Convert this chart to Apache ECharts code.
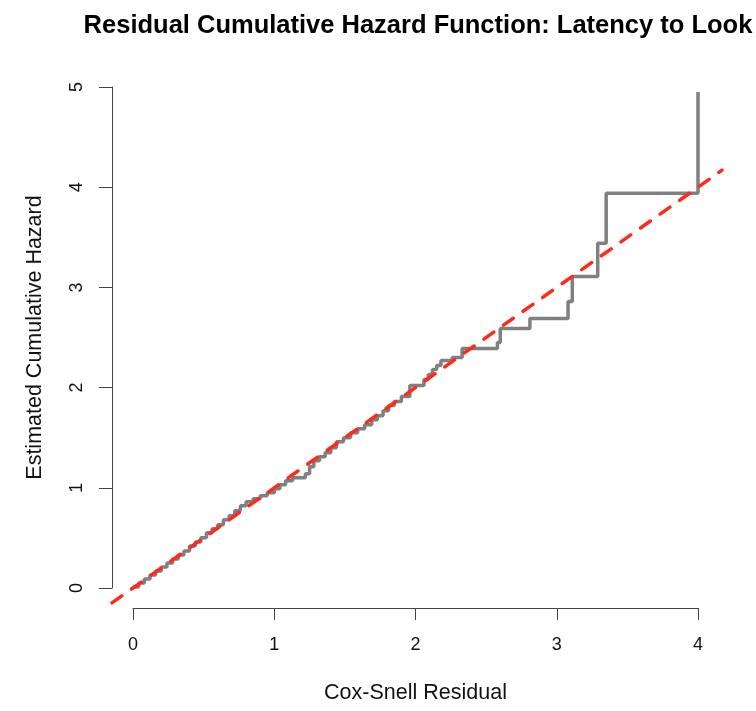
<!DOCTYPE html>
<html>
<head>
<meta charset="utf-8">
<script src="https://cdn.jsdelivr.net/npm/echarts@6/dist/echarts.min.js"></script>
<style>
  html, body { margin: 0; padding: 0; background: #fff; }
  #main { width: 756px; height: 711px; }
</style>
</head>
<body>
<div id="main"></div>
<script>
// Cox-Snell residuals (event times) and Nelson-Aalen cumulative hazard
var resid = [0.00, 0.04, 0.08, 0.12, 0.16, 0.20, 0.24, 0.28, 0.32, 0.36,
             0.40, 0.44, 0.48, 0.52, 0.56, 0.60, 0.64, 0.68, 0.72, 0.76,
             0.80, 0.85, 0.90, 0.95, 1.00, 1.04, 1.08, 1.13, 1.22, 1.25,
             1.28, 1.32, 1.36, 1.40, 1.44, 1.49, 1.54, 1.59, 1.64, 1.69,
             1.73, 1.77, 1.81, 1.85, 1.90, 1.96, 2.06, 2.09, 2.12, 2.15,
             2.18, 2.26, 2.33, 2.58, 2.60, 2.81, 3.08, 3.11, 3.29, 3.35, 4.00];
var hazard = [0.01, 0.05, 0.09, 0.13, 0.17, 0.21, 0.25, 0.29, 0.33, 0.37,
              0.42, 0.46, 0.50, 0.55, 0.59, 0.63, 0.68, 0.72, 0.77, 0.82,
              0.86, 0.89, 0.92, 0.95, 0.99, 1.03, 1.07, 1.10, 1.14, 1.21,
              1.27, 1.31, 1.35, 1.40, 1.46, 1.50, 1.55, 1.59, 1.63, 1.68,
              1.72, 1.77, 1.82, 1.86, 1.91, 2.02, 2.08, 2.13, 2.18, 2.22,
              2.27, 2.30, 2.39, 2.45, 2.59, 2.69, 2.86, 3.11, 3.44, 3.94, 4.95];

// reference line y = a + b*x (abline), clipped to the plot region
var refIntercept = 0;
var refSlope = 1;

// plot region (R adds 4% on each side) and the drawn axes
var plotX = [-0.149, 4.17];
var plotY = [-0.2, 5.15];
var xTicks = [0, 1, 2, 3, 4];
var yTicks = [0, 1, 2, 3, 4, 5];

var stepData = resid.map(function (x, i) { return [x, hazard[i]]; });
var refData = plotX.map(function (x) { return [x, refIntercept + refSlope * x]; });

var myChart = echarts.init(document.getElementById('main'));
myChart.setOption({
    animation: false,
    backgroundColor: '#fff',
    textStyle: { fontFamily: 'Liberation Sans, Arial, sans-serif' },
    title: {
        text: 'Residual Cumulative Hazard Function: Latency to Look',
        left: 413,
        top: 8,
        textAlign: 'center',
        textStyle: { fontSize: 25.5, fontWeight: 'bold', color: '#000', fontFamily: 'Liberation Sans' }
    },
    grid: [
        // plot region, holds the marks
        { left: 112, right: 34, top: 72, bottom: 103, containLabel: false },
        // span of the tick marks, holds the visible axes
        { left: 133, right: 58, top: 87, bottom: 123, containLabel: false }
    ],
    xAxis: [
        { type: 'value', gridIndex: 0, min: plotX[0], max: plotX[1], show: false },
        {
            type: 'value',
            gridIndex: 1,
            min: xTicks[0],
            max: xTicks[xTicks.length - 1],
            interval: 1,
            offset: 20,
            name: 'Cox-Snell Residual',
            nameLocation: 'middle',
            nameGap: 74,
            nameTextStyle: { fontSize: 21.5, color: '#111' },
            axisLine: { onZero: false, lineStyle: { color: '#444', width: 1 } },
            axisTick: { length: 12, lineStyle: { color: '#444' } },
            axisLabel: { fontSize: 18, color: '#111', margin: 28 },
            splitLine: { show: false }
        }
    ],
    yAxis: [
        { type: 'value', gridIndex: 0, min: plotY[0], max: plotY[1], show: false },
        {
            type: 'value',
            gridIndex: 1,
            min: yTicks[0],
            max: yTicks[yTicks.length - 1],
            interval: 1,
            offset: 21,
            name: 'Estimated Cumulative Hazard',
            nameLocation: 'middle',
            nameGap: 66,
            nameTextStyle: { fontSize: 21.5, color: '#111' },
            axisLine: { show: true, onZero: false, lineStyle: { color: '#444', width: 1 } },
            axisTick: { show: true, length: 13, lineStyle: { color: '#444' } },
            axisLabel: { fontSize: 18, color: '#111', margin: 26, rotate: 90 },
            splitLine: { show: false }
        }
    ],
    series: [
        {
            name: 'Cumulative hazard',
            type: 'line',
            xAxisIndex: 0,
            yAxisIndex: 0,
            step: 'end',
            data: stepData,
            symbol: 'none',
            lineStyle: { color: '#808080', width: 3.5 },
            z: 2
        },
        {
            name: 'Reference',
            type: 'line',
            xAxisIndex: 0,
            yAxisIndex: 0,
            data: refData,
            symbol: 'none',
            lineStyle: { color: '#ff2a1a', width: 3.5, type: [12, 12], cap: 'round' },
            z: 3
        }
    ]
});
</script>
</body>
</html>
